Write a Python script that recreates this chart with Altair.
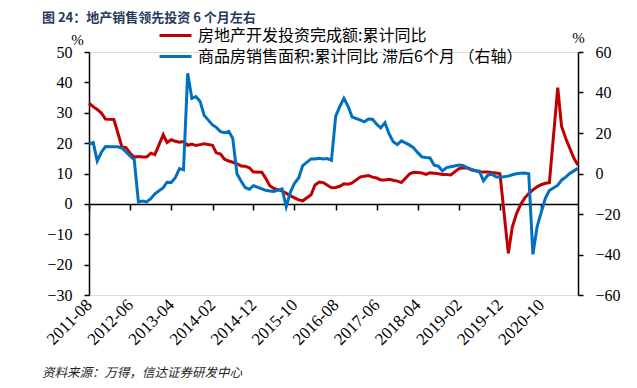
import altair as alt
import pandas as pd

# ---------------- data ----------------
title_text = "图 24：地产销售领先投资 6 个月左右"
source_text = "资料来源：万得，信达证券研发中心"
red_name = "房地产开发投资完成额:累计同比"
blue_name = "商品房销售面积:累计同比 滞后6个月 （右轴）"

# display months (China NBS cumulative data: no January release)
start_month = "2011-08-01"
end_month = "2021-07-01"

# 房地产开发投资完成额:累计同比 (%), Aug-2011 .. Jul-2021, Jan omitted
invest_2011 = [33.2, 32.0, 31.1, 29.9, 27.9]
invest_2012 = [27.8, 23.5, 18.7, 18.5, 16.6, 15.4, 15.6, 15.4, 15.4, 16.7, 16.2]
invest_2013 = [22.8, 20.2, 21.1, 20.6, 20.3, 20.5, 19.3, 19.7, 19.2, 19.5, 19.8]
invest_2014 = [19.3, 16.8, 16.4, 14.7, 14.1, 13.7, 13.2, 12.5, 12.4, 11.9, 10.5]
invest_2015 = [10.4, 8.5, 6.0, 5.1, 4.6, 4.3, 3.5, 2.6, 2.0, 1.3, 1.0]
invest_2016 = [3.0, 6.2, 7.2, 7.0, 6.1, 5.3, 5.4, 5.8, 6.6, 6.5, 6.9]
invest_2017 = [8.9, 9.1, 9.3, 8.8, 8.5, 7.9, 7.9, 8.1, 7.8, 7.5, 7.0]
invest_2018 = [9.9, 10.4, 10.3, 10.2, 9.7, 10.2, 10.1, 9.9, 9.7, 9.7, 9.5]
invest_2019 = [11.6, 11.8, 11.9, 11.2, 10.9, 10.6, 10.5, 10.5, 10.3, 10.2, 9.9]
invest_2020 = [-16.3, -7.7, -3.3, -0.3, 1.9, 3.4, 4.6, 5.6, 6.3, 6.8, 7.0]
invest_2021 = [38.3, 25.6, 21.6, 18.3, 15.0, 12.7]

# 商品房销售面积:累计同比 (%), Feb-2011 .. Dec-2020, Jan omitted, shown 6 periods later
sales_2011 = [14.5, 15.3, 6.2, 10.5, 13.3, 13.2, 13.2, 12.6, 10.6, 8.6, 6.8]
sales_2012 = [-14.0, -13.6, -14.0, -12.4, -10.0, -7.0, -4.3, -4.4, -2.1, 2.4, 1.8]
sales_2013 = [49.5, 37.1, 38.0, 35.6, 28.7, 24.0, 22.8, 20.7, 20.1, 20.8, 17.3]
sales_2014 = [-0.1, -3.8, -6.9, -7.8, -6.0, -7.6, -8.3, -8.6, -8.9, -8.2, -7.6]
sales_2015 = [-16.3, -9.2, -4.8, -2.2, 3.9, 7.2, 7.2, 7.5, 7.2, 7.4, 6.5]
sales_2016 = [28.2, 33.1, 37.1, 33.2, 27.9, 26.4, 25.5, 26.9, 26.8, 24.3, 22.5]
sales_2017 = [25.1, 19.5, 15.7, 14.3, 16.1, 14.0, 12.7, 10.3, 8.2, 7.9, 7.7]
sales_2018 = [4.1, 3.6, 1.3, 2.9, 3.3, 4.2, 4.0, 2.9, 2.2, 1.4, 1.3]
sales_2019 = [-3.6, -0.9, -0.3, -1.6, -1.8, -1.3, -0.6, -0.1, 0.1, 0.2, -0.1]
sales_2020 = [-39.9, -26.3, -19.3, -12.3, -8.4, -5.8, -3.3, -1.8, 0.0, 1.3, 2.6]

tick_labels = ["2011-08", "2012-06", "2013-04", "2014-02", "2014-12", "2015-10",
               "2016-08", "2017-06", "2018-04", "2019-02", "2019-12", "2020-10"]
left_ticks = [-30, -20, -10, 0, 10, 20, 30, 40, 50]
right_ticks = [-60, -40, -20, 0, 20, 40, 60]

# ---------------- build table ----------------
dates = [d for d in pd.date_range(start_month, end_month, freq="MS") if d.month != 1]
date_str = [d.strftime("%Y-%m-%d") for d in dates]
invest = (invest_2011 + invest_2012 + invest_2013 + invest_2014 + invest_2015 +
          invest_2016 + invest_2017 + invest_2018 + invest_2019 + invest_2020 + invest_2021)
sales = (sales_2011 + sales_2012 + sales_2013 + sales_2014 + sales_2015 +
         sales_2016 + sales_2017 + sales_2018 + sales_2019 + sales_2020)

df = pd.concat([
    pd.DataFrame({"date": date_str, "value": invest, "series": red_name}),
    pd.DataFrame({"date": date_str, "value": sales, "series": blue_name}),
])


def dt(s):
    y, m = s.split("-")
    return alt.DateTime(year=int(y), month=int(m), date=1, utc=True)


x_enc = alt.X(
    "date:T",
    scale=alt.Scale(type="utc", domain=[dt(start_month[:7]), dt(end_month[:7])]),
    axis=alt.Axis(
        values=[dt(t) for t in tick_labels],
        labelExpr="utcFormat(datum.value, '%Y-%m')",
        labelAngle=-45, labelAlign="right", labelBaseline="middle",
        labelPadding=92, offset=-91, tickSize=6, tickWidth=1.5,
        tickColor="black", domainColor="black", domainWidth=1.5,
        labelFont="Liberation Serif", labelFontSize=17, labelColor="black",
        labelOverlap=False, grid=False, title=None,
    ),
)

color_enc = alt.Color(
    "series:N",
    scale=alt.Scale(domain=[red_name, blue_name], range=["#C00000", "#0070C0"]),
    legend=alt.Legend(
        orient="none", legendX=69, legendY=-26, title=None, direction="vertical",
        symbolType="stroke", symbolSize=1024, symbolStrokeWidth=3,
        labelFont="Noto Sans CJK SC", labelFontSize=16, labelColor="black",
        labelOffset=5, clipHeight=19, rowPadding=2, labelLimit=500,
    ),
)

base = alt.Chart(df)

red = base.transform_filter(alt.datum.series == red_name).mark_line(strokeWidth=3).encode(
    x=x_enc,
    y=alt.Y("value:Q", scale=alt.Scale(domain=[-30, 50], nice=False),
            axis=alt.Axis(values=left_ticks, orient="left", title="%", titleAngle=0,
                          titleX=-12, titleY=-13, titleAlign="center", titleBaseline="middle",
                          titleFont="Liberation Serif", titleFontSize=15, titleFontWeight="normal",
                          titleColor="black",
                          labelFont="Liberation Serif", labelFontSize=16, labelColor="black",
                          labelPadding=12, tickSize=5, tickWidth=1.5, tickColor="black",
                          domainColor="black", domainWidth=1.5, grid=False)),
    color=color_enc,
)

blue = base.transform_filter(alt.datum.series == blue_name).mark_line(strokeWidth=3).encode(
    x=x_enc,
    y=alt.Y("value:Q", scale=alt.Scale(domain=[-60, 60], nice=False),
            axis=alt.Axis(values=right_ticks, orient="right", title="%", titleAngle=0,
                          titleX=0, titleY=-15, titleAlign="center", titleBaseline="middle",
                          titleFont="Liberation Serif", titleFontSize=15, titleFontWeight="normal",
                          titleColor="black",
                          labelFont="Liberation Serif", labelFontSize=16, labelColor="black",
                          labelPadding=12, tickSize=5, tickWidth=1.5, tickColor="black",
                          domainColor="black", domainWidth=1.5, grid=False)),
    color=color_enc,
)

title = alt.Chart(pd.DataFrame({"t": [title_text]})).mark_text(
    align="left", baseline="middle", fontSize=13, fontWeight="bold",
    font="Noto Sans CJK SC", color="#27395B",
).encode(text="t:N", x=alt.value(-47), y=alt.value(-34.5))

source = alt.Chart(pd.DataFrame({"t": [source_text]})).mark_text(
    align="left", baseline="middle", fontStyle="italic", fontSize=12.5,
    font="Noto Sans CJK SC", color="#222222",
).encode(text="t:N", x=alt.value(-47), y=alt.value(321))

chart = alt.layer(red, blue, title, source).resolve_scale(y="independent").properties(
    width=489, height=243,
    autosize=alt.AutoSizeParams(type="none"),
    padding={"left": 81, "top": 44, "right": 50, "bottom": 85},
).configure_view(stroke=None).configure(background="white")

chart.save("out.html", embed_options={"renderer": "svg", "actions": False})
